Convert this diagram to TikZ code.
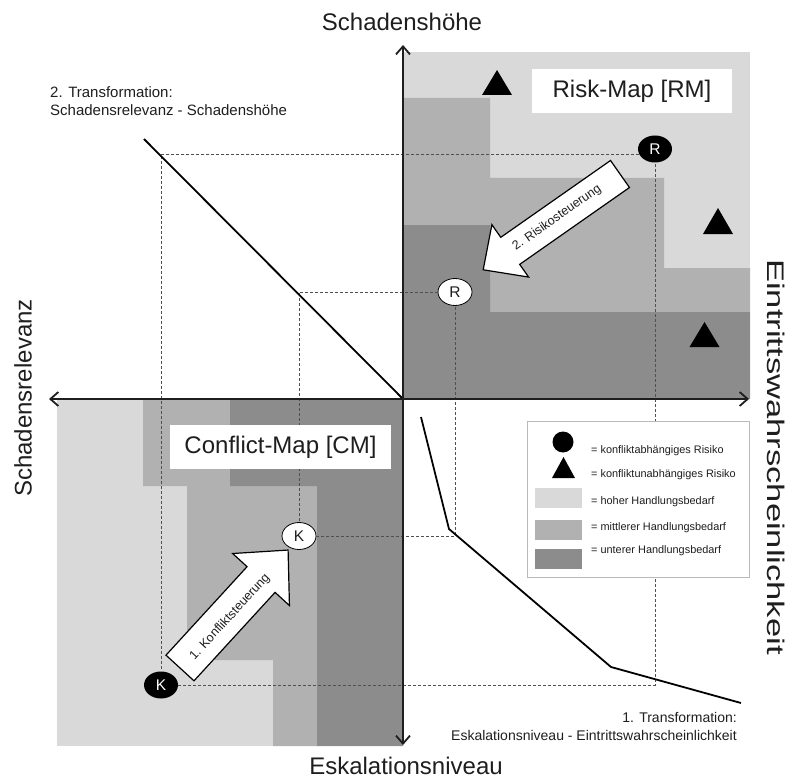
\documentclass[tikz,border=0pt]{standalone}
\usepackage{fontspec}
\setmainfont{Liberation Sans}
\usetikzlibrary{arrows.meta,shapes.geometric}

\definecolor{lightzone}{HTML}{D9D9D9}
\definecolor{midzone}{HTML}{B1B1B1}
\definecolor{darkzone}{HTML}{8C8C8C}
\definecolor{ink}{HTML}{1E1E1E}
\definecolor{guideink}{HTML}{505050}

\tikzset{
  axisline/.style={line width=1.8pt, draw=ink,
    {Straight Barb[length=8pt,width=14pt]}-{Straight Barb[length=8pt,width=14pt]}},
  guide/.style={draw=guideink, line width=0.7pt, dash pattern=on 3pt off 2pt},
  transline/.style={draw=black, line width=1.8pt, line join=round},
  riskpt/.style={ellipse, minimum width=34pt, minimum height=27pt, inner sep=0pt,
    font=\fontsize{15.5}{15.5}\selectfont},
  hotpt/.style={riskpt, fill=black, text=white},
  coolpt/.style={riskpt, fill=white, draw=black, line width=0.8pt, text=ink},
  mapname/.style={fill=white, minimum height=44pt, inner sep=0pt, text=ink,
    font=\fontsize{24}{24}\selectfont},
  axislabel/.style={text=ink, inner sep=0pt, font=\fontsize{24}{24}\selectfont},
  translabel/.style={text=ink, inner sep=0pt},
  blockarrow/.style={fill=white, draw=black, line width=1.2pt, line join=miter},
  steerlabel/.style={text=ink, inner sep=0pt, font=\fontsize{12.5}{12.5}\selectfont},
  legendtext/.style={text=ink, inner sep=0pt, anchor=base west,
    font=\fontsize{10.9}{10.9}\selectfont},
  swatch/.style={minimum width=47pt, minimum height=20pt, inner sep=0pt},
  hazard/.pic={\fill[black] (-0.5,0) -- (0.5,0) -- (0,-1) -- cycle;}
}

\begin{document}
\begin{tikzpicture}[x=1pt,y=-1pt]
\useasboundingbox (0,0) rectangle (793,781);

% ---------- Risk-Map zones (upper right quadrant)
\fill[lightzone] (403,52) rectangle (750,399);
\fill[midzone] (403,98) -- (490,98) -- (490,178) -- (664,178) -- (664,268)
  -- (750,268) -- (750,312) -- (490,312) -- (490,225) -- (403,225) -- cycle;
\fill[darkzone] (403,225) -- (490,225) -- (490,312) -- (750,312) -- (750,399)
  -- (403,399) -- cycle;

% ---------- Conflict-Map zones (lower left quadrant)
\fill[lightzone] (57,399) rectangle (403,746);
\fill[midzone] (143,399) -- (230,399) -- (230,486) -- (317,486) -- (317,746)
  -- (273,746) -- (273,660) -- (187,660) -- (187,486) -- (143,486) -- cycle;
\fill[darkzone] (230,399) -- (403,399) -- (403,746) -- (317,746) -- (317,486)
  -- (230,486) -- cycle;

% ---------- risk and conflict points
\node[hotpt]  (Rb) at (655,149) {R};
\node[coolpt] (Rw) at (455,292) {R};
\node[hotpt]  (Kb) at (161,685) {K};
\node[coolpt] (Kw) at (299,536) {K};

% ---------- projection guides
\coordinate (qA) at (655,685);
\coordinate (qB) at (161,156);
\coordinate (qC) at (455,536);
\coordinate (qD) at (299,292);
\draw[guide] (Kb.east) -- (qA) -- (Rb.south);
\draw[guide] (Rb.200) -- (Rb.200 -| qB) -- (Kb.north);
\draw[guide] (Kw.east) -- (qC) -- (Rw.south);
\draw[guide] (Rw.west) -- (qD) -- (Kw.north);

% ---------- transformation curves
\coordinate (d1) at (144,139);
\coordinate (d0) at (403,399);
\draw[transline] (d1) -- (d0);
\coordinate (c1) at (421,417);
\coordinate (c2) at (449,529);
\coordinate (c3) at (611,667);
\coordinate (c4) at (741,703);
\draw[transline] (c1) -- (c2) -- (c3) -- (c4);

% ---------- axes
\coordinate (axL) at (49,399);
\coordinate (axR) at (749,399);
\coordinate (axT) at (403,45);
\coordinate (axB) at (403,745);
\draw[axisline] (axL) -- (axR);
\draw[axisline] (axB) -- (axT);

% ---------- map titles
\node[mapname, minimum width=200pt] (rmname) at (632,91) {Risk-Map [RM]};
\node[mapname, minimum width=221pt] (cmname) at (280.5,447) {Conflict-Map [CM]};

% ---------- independent risks
\pic[xscale=30,yscale=25] at (497,95) {hazard};
\pic[xscale=30,yscale=26] at (718,234) {hazard};
\pic[xscale=30,yscale=25] at (704.5,347) {hazard};

% ---------- steering arrows
\begin{scope}[shift={(620,174)}, rotate=215]
  \draw[blockarrow] (0,-16.5) -- (134,-16.5) -- (134,-32) -- (167,0)
    -- (134,32) -- (134,16.5) -- (0,16.5) -- cycle;
\end{scope}
\node[steerlabel, rotate=35] (rsteer) at (557,218) {2. Risikosteuerung};

\begin{scope}[shift={(180,668)}, rotate=47.5]
  \draw[blockarrow] (0,-19) -- (120,-19) -- (120,-38.5) -- (160,0)
    -- (120,38.5) -- (120,19) -- (0,19) -- cycle;
\end{scope}
\node[steerlabel, rotate=47.5] (ksteer) at (230,617) {1. Konfliktsteuerung};

% ---------- legend
\node[draw=gray!55, fill=white, line width=0.8pt, minimum width=222pt,
  minimum height=156pt, inner sep=0pt] (legend) at (638,499) {};
\node[circle, fill=black, minimum size=21pt, inner sep=0pt] (lgdot) at (563,442) {};
\pic[xscale=23,yscale=21] at (563.5,478) {hazard};
\node[swatch, fill=lightzone] (lgA) at (558.5,498) {};
\node[swatch, fill=midzone]   (lgB) at (558.5,530) {};
\node[swatch, fill=darkzone]  (lgC) at (558.5,559) {};
\node[legendtext] (lt1) at (591,453) {= konfliktabhängiges Risiko};
\node[legendtext] (lt2) at (591,477) {= konfliktunabhängiges Risiko};
\node[legendtext] (lt3) at (591,504) {= hoher Handlungsbedarf};
\node[legendtext] (lt4) at (591,530) {= mittlerer Handlungsbedarf};
\node[legendtext] (lt5) at (591,553) {= unterer Handlungsbedarf};

% ---------- axis titles
\node[axislabel] (yTop) at (402,22) {Schadenshöhe};
\node[axislabel] (yBot) at (406,766) {Eskalationsniveau};
\node[axislabel, rotate=90] (xLeft) at (23,398) {Schadensrelevanz};
\node[axislabel, rotate=-90] (xRight) at (776,457)
  {\scalebox{1.44}[1]{Eintrittswahrscheinlichkeit}};

% ---------- transformation titles
\node[translabel, align=left, anchor=north west,
  font=\fontsize{15}{18}\selectfont] (tr2) at (50,86.2)
  {2. Transformation:\\Schadensrelevanz - Schadenshöhe};
\node[translabel, align=right, anchor=north east,
  font=\fontsize{14}{17.5}\selectfont] (tr1) at (737,712.5)
  {1. Transformation:\\Eskalationsniveau - Eintrittswahrscheinlichkeit};
\end{tikzpicture}
\end{document}
